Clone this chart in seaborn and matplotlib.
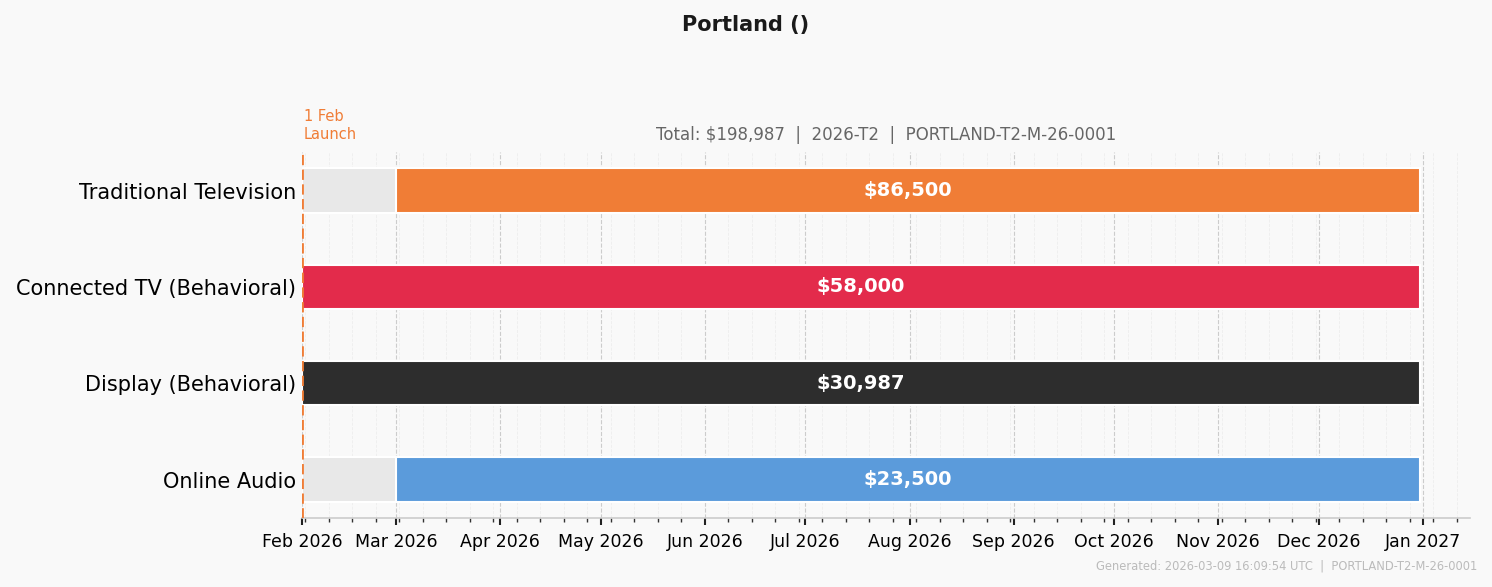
import datetime as dt
import matplotlib
matplotlib.use("Agg")
import matplotlib.pyplot as plt
import matplotlib.dates as mdates
import seaborn as sns

# Chart data
channels = ["Traditional Television", "Connected TV (Behavioral)", "Display (Behavioral)", "Online Audio"]
budgets = [86500, 58000, 30987, 23500]
start_dates = ["2026-03-01", "2026-02-01", "2026-02-01", "2026-03-01"]
end_dates = ["2026-12-31", "2026-12-31", "2026-12-31", "2026-12-31"]
bar_colors = ["#F07D36", "#E32B4B", "#2D2D2D", "#5B9BDB"]
launch_date = "2026-02-01"
x_end = "2027-01-15"

title = "Portland ()"
subtitle = "Total: $198,987  |  2026-T2  |  PORTLAND-T2-M-26-0001"
footer = "Generated: 2026-03-09 16:09:54 UTC  |  PORTLAND-T2-M-26-0001"

bg = "#F9F9F9"
sns.set_theme(style="white")
plt.rcParams["font.family"] = ["DejaVu Sans"]


def to_num(s):
    return mdates.date2num(dt.datetime.strptime(s, "%Y-%m-%d"))


fig = plt.figure(figsize=(14.92, 5.87), dpi=100, facecolor=bg)
ax = fig.add_axes([0.2024, 0.1175, 0.7829, 0.6235], facecolor=bg)

launch = to_num(launch_date)
for i, (ch, amt, s, e, c) in enumerate(zip(channels, budgets, start_dates, end_dates, bar_colors)):
    s0, e0 = to_num(s), to_num(e)
    if s0 > launch:
        # pre-flight period shown in gray
        ax.barh(i, s0 - launch, left=launch, height=0.46, color="#E8E8E8",
                edgecolor="white", linewidth=1.5, zorder=2)
    ax.barh(i, e0 - s0, left=s0, height=0.46, color=c,
            edgecolor="white", linewidth=1.5, zorder=3)
    ax.text((s0 + e0) / 2, i, f"${amt:,}", ha="center", va="center",
            color="white", fontsize=14, fontweight="bold", zorder=4)

ax.set_yticks(range(len(channels)))
ax.set_yticklabels(channels, fontsize=15, color="black")
ax.set_ylim(len(channels) - 1 + 0.4, -0.4)
ax.set_xlim(launch, to_num(x_end))

ax.xaxis.set_major_locator(mdates.MonthLocator())
ax.xaxis.set_major_formatter(mdates.DateFormatter("%b %Y"))
ax.xaxis.set_minor_locator(mdates.WeekdayLocator(byweekday=mdates.MO))
ax.tick_params(axis="x", which="major", labelsize=12.5, labelcolor="black", length=5,
               width=1.5, color="#222222", bottom=True, pad=6)
ax.tick_params(axis="x", which="minor", length=3, width=1, color="#333333", bottom=True)
ax.tick_params(axis="y", length=0, pad=4)

ax.grid(axis="x", which="major", color="#CCCCCC", linestyle="--", linewidth=0.8, zorder=0)
ax.grid(axis="x", which="minor", color="#EEEEEE", linestyle="--", linewidth=0.6, zorder=0)
ax.set_axisbelow(True)

for side in ["top", "right", "left"]:
    ax.spines[side].set_visible(False)
ax.spines["bottom"].set_color("#CCCCCC")
ax.spines["bottom"].set_linewidth(1.2)

# launch marker
ax.axvline(launch, color="#F07D36", linestyle="--", linewidth=2, zorder=5)
ax.text(launch + 0.5, 1.027, "1 Feb\nLaunch", transform=ax.get_xaxis_transform(),
        ha="left", va="bottom", fontsize=10.5, color="#F07D36", linespacing=1.3)

ax.set_title(subtitle, fontsize=12, color="#666666", pad=9)
fig.suptitle(title, fontsize=15, fontweight="bold", color="#1A1A1A", y=0.975)
fig.text(0.99, 0.025, footer, ha="right", va="bottom", fontsize=8.3, color="#BBBBBB")

fig.savefig("out.png", dpi=100, facecolor=bg)
